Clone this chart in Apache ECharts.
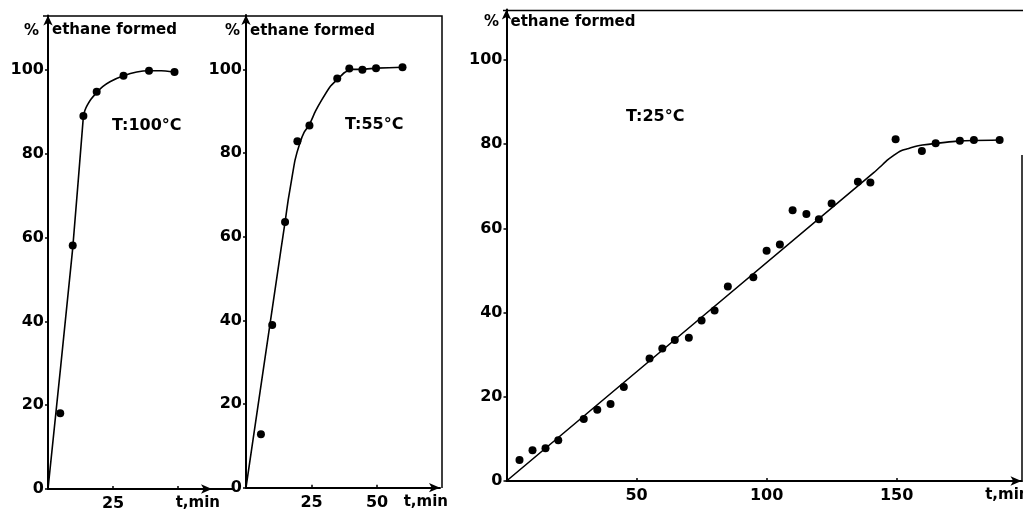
<!DOCTYPE html>
<html><head><meta charset="utf-8">
<script src="https://cdn.jsdelivr.net/npm/echarts@6/dist/echarts.min.js"></script>
<style>html,body{margin:0;padding:0;background:#fff}#c{width:1023px;height:510px}</style>
</head><body><div id="c"></div><script>
// Tick labels
const yTicks = [0, 20, 40, 60, 80, 100];
const xTicksA = [25, 50];   const xLabelsA = [25];
const xTicksB = [25, 50];   const xLabelsB = [25, 50];
const xTicksC = [50, 100, 150]; const xLabelsC = [50, 100, 150];

const tA = [4.7, 9.5, 13.6, 18.7, 29, 38.8, 48.6];
const yA = [18.1, 58.1, 89.0, 94.8, 98.6, 99.8, 99.5];
const fitTA = [0, 9.5, 13.6, 14.2, 15.1, 16.5, 18.7, 21, 23.8, 29, 34.1, 38.8, 43.5, 48.6];
const fitYA = [0, 57.5, 89, 90.4, 91.6, 93, 94.6, 96, 97.2, 98.6, 99.5, 99.8, 99.8, 99.5];

// T = 55 °C
const tB = [5.7, 10, 14.9, 19.6, 24.2, 34.8, 39.4, 44.4, 49.6, 59.7];
const yB = [12.8, 38.9, 63.5, 82.8, 86.6, 97.8, 100.2, 99.9, 100.3, 100.5];
const fitTB = [0, 13.3, 14.9, 16.1, 17.5, 18.7, 20.5, 22.2, 24.2, 26.5, 28.9, 32, 35, 37.5, 40.3, 44.4, 49.6, 59.7];
const fitYB = [0, 56.8, 63.5, 68.8, 74, 78.3, 82.3, 85, 86.8, 90, 92.7, 95.8, 97.7, 99.2, 100, 100, 100.3, 100.5];

// T = 25 °C
const tC = [5, 10, 15, 19.9, 29.7, 34.9, 40, 45.1, 55, 59.9, 64.7, 70.1, 75, 80, 85.1, 94.9,
            100, 105.1, 110, 115.3, 120.1, 125, 135.1, 139.9, 149.6, 159.7, 165, 174.3, 179.7, 189.6];
const yC = [5.0, 7.3, 7.8, 9.7, 14.7, 16.9, 18.3, 22.3, 29.1, 31.5, 33.5, 34.0, 38.1, 40.5, 46.2, 48.4,
            54.7, 56.2, 64.3, 63.4, 62.2, 65.9, 71.1, 70.9, 81.2, 78.4, 80.2, 80.8, 81.0, 81.0];
const fitTC = [0, 141.3, 143.8, 146.4, 149.0, 151.5, 154.1, 156.7, 159.9, 165, 174.6, 189.6];
const fitYC = [0, 73.3, 74.7, 76.2, 77.4, 78.4, 78.9, 79.4, 79.8, 80.2, 80.8, 81.0];

const FONT = 'DejaVu Sans';
const zip = (a, b) => a.map((v, i) => [v, b[i]]);

function yAxisCfg(gi, max, gap) {
  return {
    type: 'value', gridIndex: gi, min: 0, max: max, interval: 20,
    name: 'ethane formed', nameLocation: 'end', nameGap: gap,
    nameMoveOverlap: false,
    nameTextStyle: { align: 'left', verticalAlign: 'middle', padding: [0, 0, 0, 4],
      fontFamily: FONT, fontWeight: 'bold', fontSize: 15, color: '#000' },
    axisLine: { show: true, symbol: ['none', 'arrow'], symbolSize: [7, 10],
      lineStyle: { color: '#000', width: 2 } },
    axisTick: { show: true, inside: false, length: 3, customValues: yTicks, lineStyle: { color: '#000', width: 1.5 } },
    axisLabel: { show: true, customValues: yTicks, margin: 4, fontFamily: FONT, fontWeight: 'bold',
      fontSize: 16, color: '#000' },
    splitLine: { show: false }
  };
}
function xAxisCfg(gi, max, ticks, labels) {
  return {
    type: 'value', gridIndex: gi, min: 0, max: max,
    name: 't,min', nameLocation: 'end', nameGap: 8, nameMoveOverlap: false,
    nameTextStyle: { align: 'right', verticalAlign: 'top', padding: [7, 0, 0, 0],
      fontFamily: FONT, fontWeight: 'bold', fontSize: 15, color: '#000' },
    axisLine: { show: true, onZero: false, symbol: ['none', 'arrow'], symbolSize: [7, 11],
      lineStyle: { color: '#000', width: 2 } },
    axisTick: { show: true, inside: true, length: 3, customValues: ticks, lineStyle: { color: '#000', width: 1.5 } },
    axisLabel: { show: true, customValues: labels, margin: 7, fontFamily: FONT, fontWeight: 'bold',
      fontSize: 16, color: '#000' },
    splitLine: { show: false }
  };
}
function scatter(gi, t, y) {
  return { type: 'scatter', xAxisIndex: gi, yAxisIndex: gi, data: zip(t, y), symbolSize: 8,
    itemStyle: { color: '#000', opacity: 1 }, z: 3 };
}
function curve(gi, t, y) {
  return { type: 'line', xAxisIndex: gi, yAxisIndex: gi, data: zip(t, y), showSymbol: false,
    smooth: 0.15, lineStyle: { color: '#000', width: 1.6 }, z: 2 };
}
function txt(x, y, s, size, align) {
  return { type: 'text', x: x, y: y, style: { text: s, fill: '#000', fontFamily: FONT, fontWeight: 'bold',
    fontSize: size, align: align || 'left', verticalAlign: 'middle' } };
}

const chart = echarts.init(document.getElementById('c'), null, { renderer: 'canvas' });
chart.setOption({
  animation: false,
  backgroundColor: '#fff',
  grid: [
    { left: 48, top: 15.5, width: 164, height: 473.5, containLabel: false, outerBoundsMode: 'none' },
    { left: 246, top: 15, width: 194, height: 472.7, containLabel: false, outerBoundsMode: 'none' },
    { left: 506.5, top: 9.5, width: 515, height: 471.5, containLabel: false, outerBoundsMode: 'none' }
  ],
  xAxis: [xAxisCfg(0, 63, xTicksA, xLabelsA), xAxisCfg(1, 74, xTicksB, xLabelsB), xAxisCfg(2, 198, xTicksC, xLabelsC)],
  yAxis: [yAxisCfg(0, 113, -15), yAxisCfg(1, 113, -16), yAxisCfg(2, 112, -13)],
  series: [
    curve(0, fitTA, fitYA), scatter(0, tA, yA),
    curve(1, fitTB, fitYB), scatter(1, tB, yB),
    curve(2, fitTC, fitYC), scatter(2, tC, yC)
  ],
  graphic: [
    { type: 'polyline', shape: { points: [[43, 16], [442, 16], [442, 488]] }, style: { stroke: '#000', lineWidth: 1.5, fill: null } },
    { type: 'line', shape: { x1: 212, y1: 489, x2: 234, y2: 489 }, style: { stroke: '#000', lineWidth: 2 } },
    { type: 'line', shape: { x1: 503, y1: 10.5, x2: 1023, y2: 10.5 }, style: { stroke: '#000', lineWidth: 1.5 } },
    { type: 'line', shape: { x1: 1022, y1: 155, x2: 1022, y2: 482 }, style: { stroke: '#000', lineWidth: 1.5 } },
    txt(39, 31, '%', 15, 'right'),
    txt(240, 31, '%', 15, 'right'),
    txt(499, 22, '%', 15, 'right'),
    txt(112, 126, 'T:100°C', 16),
    txt(345, 125, 'T:55°C', 16),
    txt(626, 117, 'T:25°C', 16)
  ]
});
</script></body></html>
